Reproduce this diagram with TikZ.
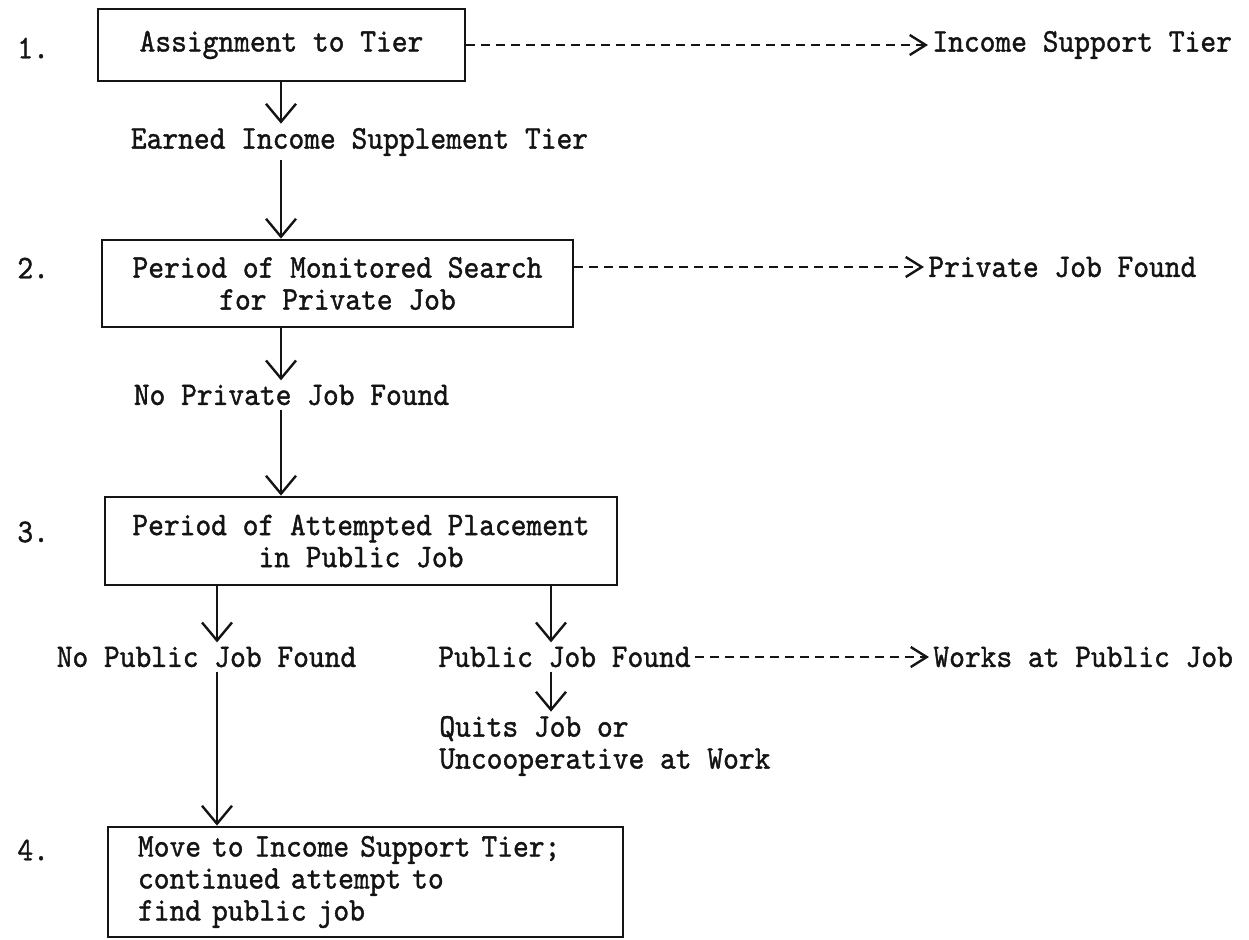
\documentclass[tikz,border=0pt]{standalone}
\usepackage{fontspec}
\setmonofont{lmmono10-regular.otf}[FakeStretch=0.91,FakeBold=1.2]
\usepackage{tikz}
\usetikzlibrary{arrows.meta,positioning}
\definecolor{ink}{HTML}{141414}

\begin{document}
\begin{tikzpicture}[x=0.5pt,y=-0.5pt,
    font=\fontsize{16.5}{16}\selectfont\ttfamily,
    stagebox/.style={draw=ink,line width=1.4pt,text=ink,align=center,inner sep=0pt},
    lbl/.style={text=ink,inner sep=2pt},
    flow/.style={draw=ink,line width=1.2pt,-{Straight Barb[length=9pt,width=15pt,line width=1.2pt]}},
    side/.style={draw=ink,line width=0.9pt,dash pattern=on 4.5pt off 3pt,-{Straight Barb[length=8pt,width=10pt,line width=1.2pt]}}]
  \useasboundingbox (0,0) rectangle (1249,939);

  % step numbers
  \foreach \s/\y in {1/48,2/268,3/532,4/850} {
    \node[lbl,anchor=west] (n\s) at (13,\y) {\s.};
  }

  % stage boxes
  \node[stagebox,minimum width=183.5pt,minimum height=36pt] (b1) at (281.5,45) {Assignment to Tier};
  \node[stagebox,minimum width=235.5pt,minimum height=43.5pt] (b2) at (337.5,283.5)
    {Period of Monitored Search\\for Private Job};
  \node[stagebox,minimum width=256pt,minimum height=44pt] (b3) at (361,541)
    {Period of Attempted Placement\\in Public Job};
  \node[stagebox,align=left,inner xsep=15pt,text width=227.5pt,minimum width=257.5pt,minimum height=55pt] (b4) at (365.5,882)
    {Move to Income Support Tier;\\continued attempt to\\find public job};

  % outcomes
  \node[lbl] (earned) at (359.5,142) {Earned Income Supplement Tier};
  \node[lbl] (nopriv) at (291.5,395) {No Private Job Found};
  \node[lbl] (nopub) at (206.5,657) {No Public Job Found};
  \node[lbl] (pubf) at (564.5,657) {Public Job Found};
  \node[lbl,anchor=west,align=left] (quits) at (435,746) {Quits Job or\\Uncooperative at Work};
  \node[lbl,anchor=west] (isup) at (928,45) {Income Support Tier};
  \node[lbl,anchor=west] (pjf) at (924,267) {Private Job Found};
  \node[lbl,anchor=west] (works) at (929,657) {Works at Public Job};

  % vertical lines of the chart
  \coordinate (sp) at (281,0);
  \coordinate (lf) at (217,0);
  \coordinate (rt) at (551,0);

  \draw[flow] (sp |- b1.south) -- (sp |- earned.north);
  \draw[flow] (sp |- earned.south) -- (sp |- b2.north);
  \draw[flow] (sp |- b2.south) -- (sp |- nopriv.north);
  \draw[flow] (sp |- nopriv.south) -- (sp |- b3.north);
  \draw[flow] (lf |- b3.south) -- (lf |- nopub.north);
  \draw[flow] (rt |- b3.south) -- (rt |- pubf.north);
  \draw[flow] (lf |- nopub.south) -- (lf |- b4.north);
  \draw[flow] (rt |- pubf.south) -- (rt |- quits.north);

  % dashed exits
  \draw[side] (b1.east) -- (isup.west);
  \draw[side] (b2.east |- pjf.west) -- (pjf.west);
  \draw[side] (pubf.east) -- (works.west);
\end{tikzpicture}
\end{document}
